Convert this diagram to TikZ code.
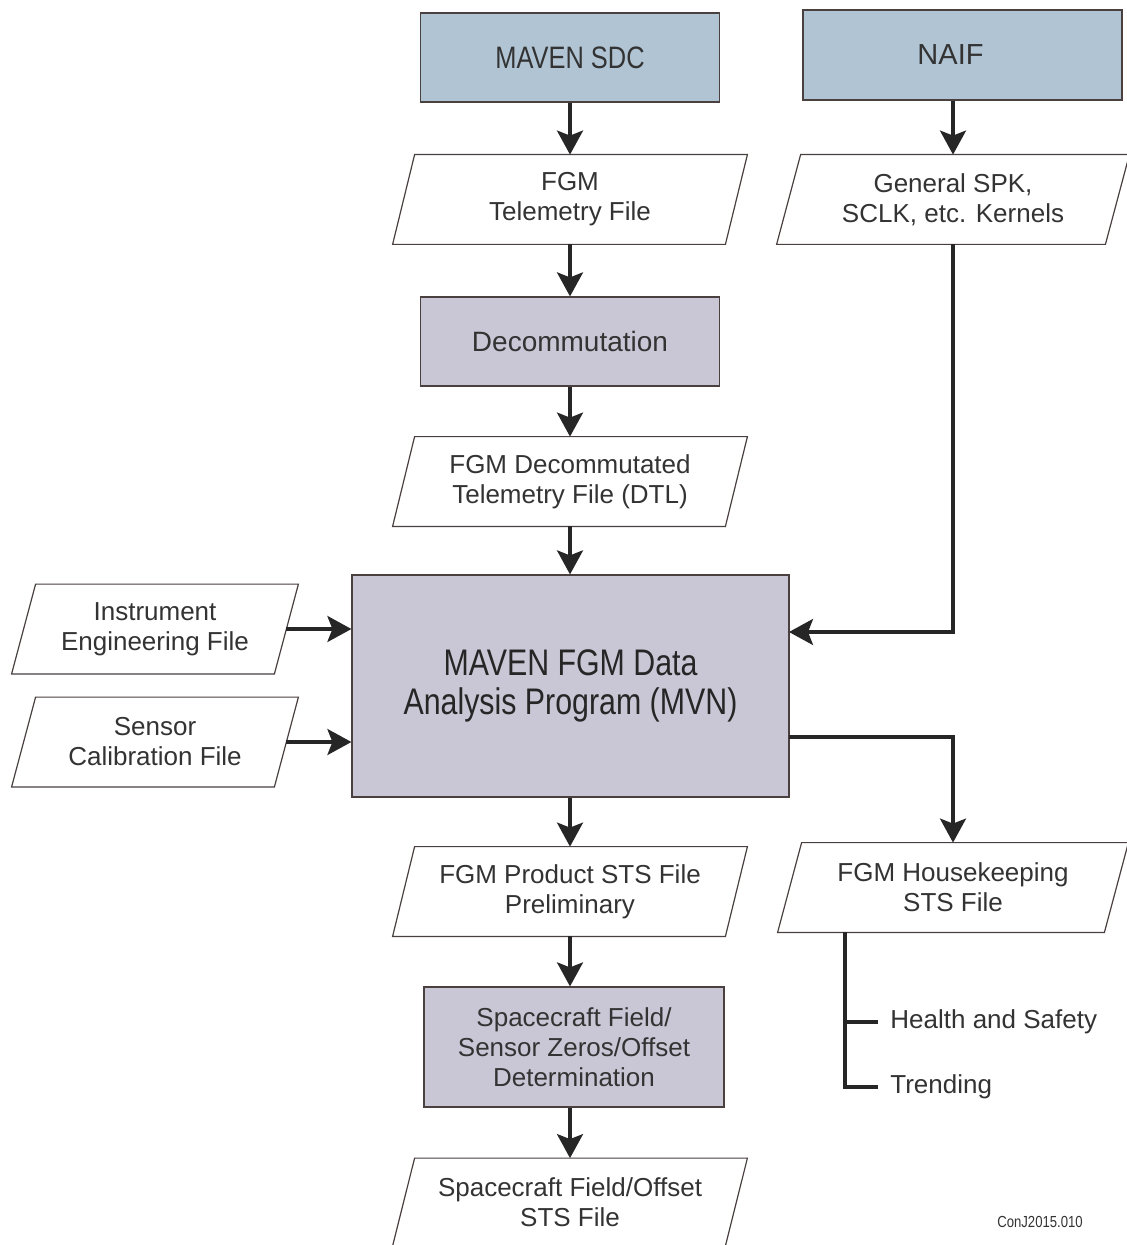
\documentclass[tikz,border=0pt]{standalone}
\usepackage{fontspec}
\setmainfont{Liberation Sans}
\newfontfamily\condfont[FakeStretch=0.82]{Liberation Sans}
\usetikzlibrary{arrows.meta,calc}
\definecolor{bluebox}{HTML}{B0C4D4}
\definecolor{graybox}{HTML}{C9C7D5}
\definecolor{txt}{HTML}{333333}
\definecolor{edge}{HTML}{4A4040}
\tikzset{
 box/.style={draw=edge, line width=0.6pt, align=center, text=txt, inner sep=0pt, font=\fontsize{13}{15}\selectfont},
 srcbox/.style={box, fill=bluebox},
 procbox/.style={box, fill=graybox},
 filenode/.style={align=center, text=txt, inner sep=0pt, minimum height=44.5pt, font=\fontsize{13}{15}\selectfont},
 arr/.style={line width=1.6pt, draw=black!85, -{Stealth[length=12pt,width=13pt,inset=2.5pt]}},
 plainline/.style={line width=1.6pt, draw=black!85},
 lbl/.style={anchor=west, inner sep=0pt, text=txt, font=\fontsize{13}{15}\selectfont},
}
\newcommand{\pgram}[2][5.5pt]{\draw[draw=edge, line width=0.6pt] ([xshift=#1]#2.north west) -- ([xshift=#1]#2.north east) -- ([xshift=-#1]#2.south east) -- ([xshift=-#1]#2.south west) -- cycle;}
\begin{document}
\begin{tikzpicture}[x=0.5pt,y=-0.5pt]
\useasboundingbox[fill=white] (0,0) rectangle (1126,1245);
% sources
\node[srcbox, minimum width=149.5pt, minimum height=44.5pt, font=\condfont\fontsize{15.5}{17}\selectfont] (sdc) at (570,57.5) {MAVEN SDC};
\node[srcbox, minimum width=159.5pt, minimum height=45pt, font=\fontsize{14.5}{16}\selectfont] (naif) at (962.5,55) {\hspace*{-12pt}NAIF};
% files
\node[filenode, minimum width=166pt] (tlm) at (570,199.5) {FGM\\Telemetry File};
\node[filenode, minimum width=164pt] (kern) at (953,199.5) {General SPK,\\SCLK, etc. Kernels};
\node[procbox, minimum width=149.5pt, minimum height=44.5pt, font=\fontsize{14}{16}\selectfont] (dec) at (570,341.5) {Decommutation};
\node[filenode, minimum width=166pt] (dtl) at (570,481.5) {FGM Decommutated\\Telemetry File (DTL)};
\node[procbox, minimum width=218.5pt, minimum height=111pt, text=black!85, font=\condfont\fontsize{18.5}{19.5}\selectfont] (mvn) at (570.5,686) {MAVEN FGM Data\\Analysis Program (MVN)};
\node[filenode, minimum width=131pt] (ieng) at (155,629) {Instrument\\Engineering File};
\node[filenode, minimum width=131pt] (scal) at (155,742) {Sensor\\Calibration File};
\node[filenode, minimum width=166pt] (prod) at (570,891.5) {FGM Product STS File\\Preliminary};
\node[filenode, minimum width=163pt] (hk) at (953,887.5) {FGM Housekeeping\\STS File};
\node[procbox, minimum width=150pt, minimum height=60pt] (scf) at (574,1047) {Spacecraft Field/\\Sensor Zeros/Offset\\Determination};
\node[filenode, minimum width=166pt, minimum height=43.5pt] (off) at (570,1202) {Spacecraft Field/Offset\\STS File};
\node[lbl] (hs) at (890,1022) {Health and Safety};
\node[lbl] (tr) at (890,1087) {Trending};
\node[anchor=center, inner sep=0pt, text=txt, font=\condfont\fontsize{8}{9}\selectfont] (id) at (1040,1222) {ConJ2015.010};
\pgram{tlm}
\pgram[6pt]{kern}
\pgram{dtl}
\pgram[6pt]{ieng}
\pgram[6pt]{scal}
\pgram{prod}
\pgram[6pt]{hk}
\pgram{off}
% coordinates
\coordinate (naifin) at (789,632);
\coordinate (hkout) at (789,737);
\coordinate (br) at (845,932);
% connectors
\draw[arr] (sdc.south) -- (tlm.north);
\draw[arr] (kern.north |- naif.south) -- (kern.north);
\draw[arr] (tlm.south) -- (dec.north);
\draw[arr] (dec.south) -- (dtl.north);
\draw[arr] (dtl.south) -- (dtl.south |- mvn.north);
\draw[arr] (kern.south) |- (naifin);
\draw[arr] (ieng.east) -- (mvn.west |- ieng.east);
\draw[arr] (scal.east) -- (mvn.west |- scal.east);
\draw[arr] (prod.north |- mvn.south) -- (prod.north);
\draw[arr] (hkout) -| (hk.north);
\draw[arr] (prod.south) -- (prod.south |- scf.north);
\draw[arr] (prod.south |- scf.south) -- (off.north);
\draw[plainline] (br) |- ([xshift=-6pt]tr.west);
\draw[plainline] (br |- hs.west) -- ([xshift=-6pt]hs.west);
\end{tikzpicture}
\end{document}
